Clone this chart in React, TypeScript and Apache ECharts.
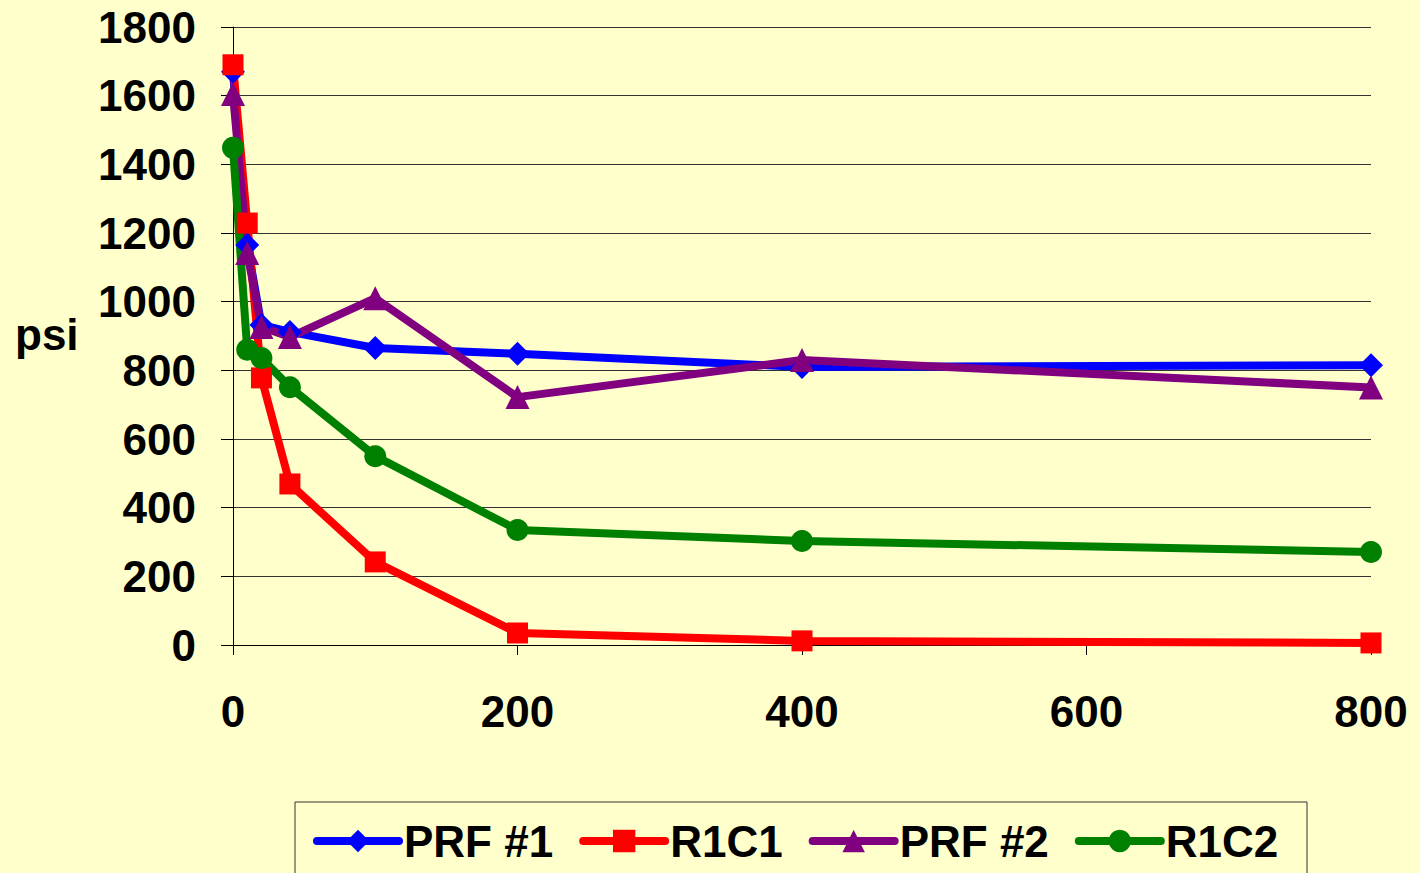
import React, { useEffect, useRef } from "react";
import * as echarts from "echarts";

const xValues = [0, 10, 20, 40, 100, 200, 400, 800];
const prf1 = [1670, 1165, 932, 912, 865, 848, 810, 815];
const r1c1 = [1690, 1229, 778, 469, 242, 35, 12, 6];
const prf2 = [1605, 1142, 926, 897, 1010, 722, 830, 750];
const r1c2 = [1448, 860, 836, 751, 550, 335, 303, 271];

const seriesNames = ["PRF #1", "R1C1", "PRF #2", "R1C2"];
const xTicks = { min: 0, max: 800, interval: 200 };
const yTicks = { min: 0, max: 1800, interval: 200 };

const pair = (ys: number[]) => xValues.map((x, i) => [x, ys[i]]);

export default function App() {
  const ref = useRef<HTMLDivElement>(null);
  useEffect(() => {
    if (!ref.current) return;
    const chart = echarts.init(ref.current, undefined, { renderer: "svg" });
    const font = "'Liberation Sans', Arial, sans-serif";
    const mk = (name: string, data: number[], color: string, symbol: string, size: number) => ({
      name,
      type: "line",
      data: pair(data),
      symbol,
      symbolSize: size,
      showAllSymbol: true,
      lineStyle: { color, width: 8 },
      itemStyle: { color },
      emphasis: { disabled: true },
    });
    chart.setOption({
      animation: false,
      backgroundColor: "#FFFFCC",
      textStyle: { fontFamily: font },
      grid: { left: 233, right: 49, top: 27, bottom: 228 },
      xAxis: {
        type: "value",
        min: xTicks.min,
        max: xTicks.max,
        interval: xTicks.interval,
        axisLine: { lineStyle: { color: "#000", width: 1 } },
        axisTick: { show: true, length: 10, lineStyle: { color: "#000" } },
        splitLine: { show: false },
        axisLabel: {
          color: "#000",
          fontSize: 44,
          fontWeight: "bold",
          fontFamily: font,
          margin: 44,
          formatter: (v: number) => String(v),
        },
      },
      yAxis: {
        type: "value",
        min: yTicks.min,
        max: yTicks.max,
        interval: yTicks.interval,
        axisLine: { show: true, lineStyle: { color: "#000", width: 1 } },
        axisTick: { show: true, length: 12, lineStyle: { color: "#000" } },
        splitLine: { show: true, lineStyle: { color: "#333", width: 1 } },
        axisLabel: {
          color: "#000",
          fontSize: 44,
          fontWeight: "bold",
          fontFamily: font,
          margin: 37,
          formatter: (v: number) => String(v),
        },
      },
      legend: {
        data: seriesNames,
        left: 308,
        top: 814,
        itemWidth: 82,
        itemHeight: 28,
        itemGap: 26,
        selectedMode: false,
        lineStyle: { width: 8, cap: "round" },
        textStyle: {
          color: "#000",
          fontSize: 44,
          fontWeight: "bold",
          fontFamily: font,
        },
      },
      graphic: [
        {
          type: "rect",
          shape: { x: 295, y: 802, width: 1012, height: 80 },
          style: { fill: "#FFFFCC", stroke: "#333", lineWidth: 1 },
          z: -1,
          silent: true,
        },
        {
          type: "text",
          left: 15,
          top: 312,
          style: { text: "psi", fontSize: 44, fontWeight: "bold", fontFamily: font, fill: "#000" },
        },
      ],
      series: [
        mk(seriesNames[0], prf1, "#0000FF", "diamond", 24),
        mk(seriesNames[1], r1c1, "#FF0000", "rect", 21),
        mk(seriesNames[2], prf2, "#800080", "triangle", 24),
        mk(seriesNames[3], r1c2, "#008000", "circle", 22),
      ],
    });
    return () => chart.dispose();
  }, []);
  return (
    <div
      ref={ref}
      style={{ position: "fixed", left: 0, top: 0, width: 1420, height: 873 }}
    />
  );
}
